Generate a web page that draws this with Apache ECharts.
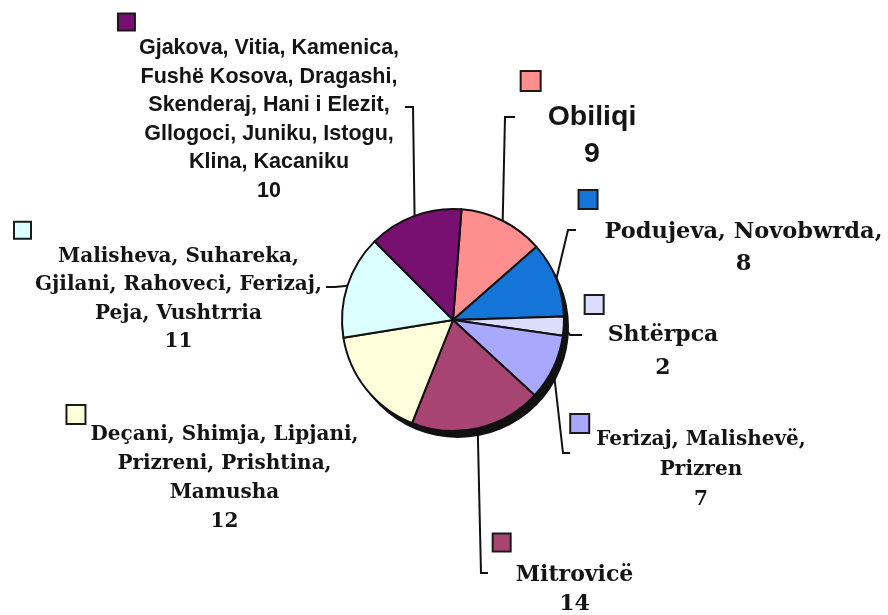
<!DOCTYPE html>
<html>
<head>
<meta charset="utf-8">
<script src="https://cdn.jsdelivr.net/npm/echarts@6/dist/echarts.min.js"></script>
<style>
    html, body { margin: 0; background: #fff; }
    #chart { width: 888px; height: 615px; }
</style>
</head>
<body>
<div id="chart"></div>
<script>
// data
const labels = [
    ['Obiliqi'],
    ['Podujeva, Novobwrda,'],
    ['Shtërpca'],
    ['Ferizaj, Malishevë,', 'Prizren'],
    ['Mitrovicë'],
    ['Deçani, Shimja, Lipjani,', 'Prizreni, Prishtina,', 'Mamusha'],
    ['Malisheva, Suhareka,', 'Gjilani, Rahoveci, Ferizaj,', 'Peja, Vushtrria'],
    ['Gjakova, Vitia, Kamenica,', 'Fushë Kosova, Dragashi,', 'Skenderaj, Hani i Elezit,', 'Gllogoci, Juniku, Istogu,', 'Klina, Kacaniku']
];
const values = [9, 8, 2, 7, 14, 12, 11, 10];
const colors = ['#FF8F8F', '#1474D8', '#DCDCFF', '#A8A8FF', '#A84472', '#FFFFDC', '#DCFFFF', '#771070'];

const SANS = 'Liberation Sans';
const SERIF = 'DejaVu Serif';

// label placement: x,y = anchor (top centre), font, size, line height,
// gap = marker offset left of text, mk = marker size, ml = marker line height,
// guide = [corner, end] of the leader line
const place = [
    { x: 579, y: 63.5, font: SANS, size: 28.5, lh: 37, gap: 26, mk: 18, ml: 35, guide: [[505, 117], [515, 117]] },
    { x: 731, y: 182.5, font: SERIF, size: 22.5, lh: 32, gap: 25, mk: 17, ml: 34, guide: [[568, 230], [576, 230]] },
    { x: 652, y: 290.5, font: SERIF, size: 22, lh: 33, gap: 22, mk: 17, ml: 28, guide: [[570, 335], [582, 335]] },
    { x: 688.5, y: 422, font: SERIF, size: 20, lh: 30, gap: 25, mk: 17, ml: 3, guide: [[563, 453], [570, 453]] },
    { x: 563.5, y: 524.5, font: SERIF, size: 22, lh: 29, gap: 22, mk: 16, ml: 36, guide: [[481, 573], [488, 573]] },
    { x: 213, y: 408.5, font: SERIF, size: 20, lh: 29, gap: 23, mk: 17, ml: 12, guide: null },
    { x: 168.5, y: 218, font: SERIF, size: 20, lh: 28.5, gap: 20, mk: 15, ml: 24.5, guide: [[335, 287], [326, 287]] },
    { x: 259, y: 10.3, font: SANS, size: 21.5, lh: 28.6, gap: 20, mk: 15, ml: 23.4, guide: [[413, 107], [405, 107]] }
];

const total = values.reduce((a, b) => a + b, 0);

const pieData = values.map((v, i) => {
    const p = place[i];
    const txt = {
        fontFamily: p.font,
        fontSize: p.size,
        fontWeight: 'bold',
        color: '#141414',
        lineHeight: p.lh,
        padding: [0, 0, 0, p.gap]
    };
    return {
        name: labels[i].join(' '),
        value: v,
        itemStyle: { color: colors[i] },
        labelLine: { show: !!p.guide },
        label: {
            formatter: () => ['{m|}'].concat(labels[i].map(s => '{t|' + s + '}'), ['{t|' + v + '}']).join('\n'),
            rich: {
                m: {
                    width: p.mk, height: p.mk, lineHeight: p.ml,
                    backgroundColor: colors[i], borderColor: '#1a1a1a', borderWidth: 2,
                    align: 'left'
                },
                t: txt
            }
        }
    };
});

let chart = echarts.init(document.getElementById('chart'));
chart.setOption({
    animation: false,
    backgroundColor: '#fff',
    series: [
        {
            // drop shadow under the pie
            type: 'pie',
            silent: true,
            z: 1,
            center: [458, 327],
            radius: 111,
            data: [{ value: total }],
            itemStyle: { color: '#111' },
            label: { show: false },
            labelLine: { show: false },
            emphasis: { disabled: true }
        },
        {
            type: 'pie',
            z: 2,
            center: [453, 320],
            radius: 111,
            startAngle: 85.6,
            clockwise: true,
            avoidLabelOverlap: false,
            data: pieData,
            itemStyle: { borderColor: '#111', borderWidth: 2 },
            label: { show: true, position: 'outside', align: 'center' },
            labelLine: { show: true, lineStyle: { color: '#111', width: 2 } },
            emphasis: { disabled: true },
            labelLayout: (params) => {
                const p = place[params.dataIndex];
                const out = { x: p.x, y: p.y, align: 'center', verticalAlign: 'top' };
                if (p.guide && params.labelLinePoints) {
                    out.labelLinePoints = [params.labelLinePoints[0], p.guide[0], p.guide[1]];
                }
                return out;
            }
        }
    ]
});
window.addEventListener('resize', () => chart.resize());
</script>
</body>
</html>
